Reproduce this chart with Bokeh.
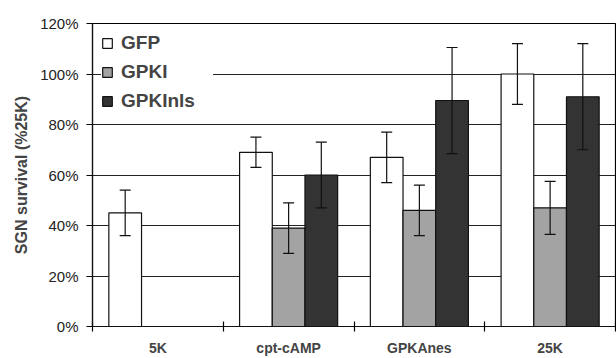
from bokeh.plotting import figure
from bokeh.models import (ColumnDataSource, FixedTicker, PrintfTickFormatter, Whisker,
                          TeeHead, Legend, LegendItem, Range1d)
from bokeh.embed import file_html
from bokeh.resources import INLINE

categories = ["5K", "cpt-cAMP", "GPKAnes", "25K"]
series = ["GFP", "GPKI", "GPKInls"]
gfp = [45, 69, 67, 100]
gfp_err = [9, 6, 10, 12]
gpki = [None, 39, 46, 47]
gpki_err = [None, 10, 10, 10.5]
gpkinls = [None, 60, 89.5, 91]
gpkinls_err = [None, 13, 21, 21]
y_ticks = [0, 20, 40, 60, 80, 100, 120]

colors = ["#ffffff", "#a3a3a3", "#333333"]
offsets = [-0.25, 0.0, 0.25]
bar_w = 0.25

p = figure(width=616, height=358, output_backend="svg", toolbar_location=None,
           x_range=Range1d(0, 4), y_range=Range1d(0, 120),
           min_border_left=92, min_border_right=1, min_border_top=23, min_border_bottom=32)

p.background_fill_color = "white"
p.border_fill_color = "white"
p.outline_line_color = "black"
p.outline_line_width = 1.2
p.xgrid.visible = False
p.ygrid.ticker = FixedTicker(ticks=[20, 40, 60, 80, 100])
p.ygrid.grid_line_color = "#222222"
p.ygrid.grid_line_width = 1.2

vals = [gfp, gpki, gpkinls]
errs = [gfp_err, gpki_err, gpkinls_err]
renderers = []
for k in range(3):
    xs, tops, lo, hi = [], [], [], []
    for i, v in enumerate(vals[k]):
        if v is None:
            continue
        xs.append(i + 0.5 + offsets[k])
        tops.append(v)
        lo.append(v - errs[k][i])
        hi.append(v + errs[k][i])
    src = ColumnDataSource(dict(x=xs, top=tops, lo=lo, hi=hi))
    r = p.vbar(x="x", top="top", bottom=0, width=bar_w, source=src,
               fill_color=colors[k], line_color="#111111", line_width=1.2)
    renderers.append(r)
    w = Whisker(base="x", lower="lo", upper="hi", source=src, line_color="#111111",
                line_width=1.2, level="overlay",
                upper_head=TeeHead(size=11, line_color="#111111", line_width=1.2),
                lower_head=TeeHead(size=11, line_color="#111111", line_width=1.2))
    p.add_layout(w)

legend = Legend(items=[LegendItem(label=series[k], renderers=[renderers[k]]) for k in range(3)],
                location="top_left")
legend.label_text_font = "Liberation Sans"
legend.label_text_font_style = "bold"
legend.label_text_font_size = "19px"
legend.glyph_width = 12
legend.glyph_height = 12
legend.label_standoff = 8
legend.label_width = 92
legend.spacing = 7
legend.padding = 12
legend.margin = 9
legend.border_line_color = None
legend.background_fill_color = "white"
legend.background_fill_alpha = 1.0
p.add_layout(legend)

# y axis
p.yaxis.ticker = FixedTicker(ticks=y_ticks)
p.yaxis.formatter = PrintfTickFormatter(format="%d%%")
p.yaxis.axis_label = "SGN survival (%25K)"
p.yaxis.axis_label_text_font = "Liberation Sans"
p.yaxis.axis_label_text_font_style = "bold"
p.yaxis.axis_label_text_font_size = "16px"
p.yaxis.axis_label_standoff = 7
p.yaxis.major_label_text_font = "Liberation Sans"
p.yaxis.major_label_text_font_size = "15px"
p.yaxis.major_label_text_color = "#222222"
p.yaxis.major_label_standoff = 8
p.yaxis.major_tick_in = 0
p.yaxis.major_tick_out = 6
p.yaxis.minor_tick_line_color = None
p.yaxis.axis_line_color = "#111111"
p.yaxis.axis_line_width = 1.2
p.yaxis.major_tick_line_width = 1.2

# x axis
p.xaxis.ticker = FixedTicker(ticks=[0.5, 1.5, 2.5, 3.5], minor_ticks=[0, 1, 2, 3, 4])
p.xaxis.major_label_overrides = {0.5: categories[0], 1.5: categories[1],
                                 2.5: categories[2], 3.5: categories[3]}
p.xaxis.major_tick_line_color = None
p.xaxis.major_tick_out = 6
p.xaxis.minor_tick_in = 5
p.xaxis.minor_tick_out = 5
p.xaxis.minor_tick_line_width = 1.2
p.xaxis.major_label_standoff = 7
p.xaxis.major_label_text_font = "Liberation Sans"
p.xaxis.major_label_text_font_style = "bold"
p.xaxis.major_label_text_font_size = "14px"
p.xaxis.axis_line_color = "#111111"
p.xaxis.axis_line_width = 1.2

open("out.html", "w").write(file_html(p, INLINE))
